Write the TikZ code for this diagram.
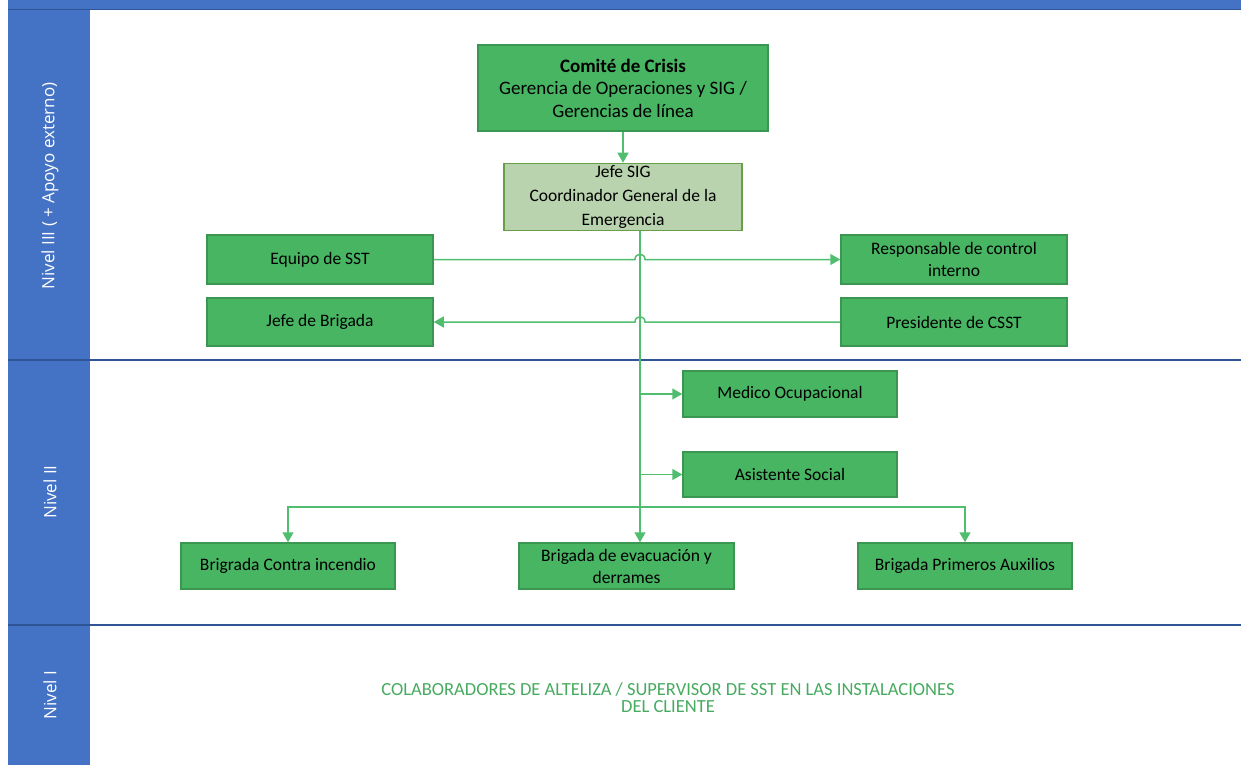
\documentclass[tikz,border=0pt]{standalone}
\usepackage{fontspec}
\setmainfont{Carlito}
\newfontfamily\lanefont{Open Sans}
\usepackage{xcolor}
\usetikzlibrary{arrows.meta,positioning,calc}
\definecolor{boxgreen}{RGB}{71,181,98}
\definecolor{boxedge}{RGB}{58,150,80}
\definecolor{sagefill}{RGB}{185,211,174}
\definecolor{sageedge}{RGB}{104,158,70}
\definecolor{linkgreen}{RGB}{80,190,110}
\definecolor{laneblue}{RGB}{68,114,196}
\definecolor{lanerule}{RGB}{47,85,151}
\definecolor{textgreen}{RGB}{70,170,95}
\tikzset{
    green-box/.style = {draw=boxedge, fill=boxgreen, line width=1.5pt, rectangle, align=center, inner sep=2pt, font=\fontsize{17.5}{22}\selectfont},
    sage-box/.style = {green-box, draw=sageedge, fill=sagefill, font=\fontsize{17.5}{24}\selectfont},
    lane-title/.style = {text=white, rotate=90, font=\lanefont\fontsize{17}{20}\selectfont},
    link/.style = {draw=linkgreen, line width=1.5pt, -{Triangle[length=10pt,width=11pt]}},
}

\begin{document}
\begin{tikzpicture}[x=1pt, y=-1pt]
\useasboundingbox (0,0) rectangle (1241,765);
% swimlanes
\fill[laneblue] (8,0) rectangle (1241,10);
\fill[laneblue] (8,10) rectangle (90,765);
\draw[lanerule, line width=1pt] (8,10) -- (1241,10);
\draw[lanerule, line width=2pt] (8,360) -- (1241,360);
\draw[lanerule, line width=2pt] (8,625) -- (1241,625);
\node[lane-title] (nivel3) at (50,186) {Nivel III ( + Apoyo externo)};
\node[lane-title] (nivel2) at (50,492) {Nivel II};
\node[lane-title] (nivel1) at (50,695) {Nivel I};

% nodes
\node[green-box, minimum width=290pt, minimum height=86pt, font=\fontsize{19}{22.5}\selectfont] (crisis) at (623,88) {\textbf{Comité de Crisis}\\Gerencia de Operaciones y SIG /\\Gerencias de línea};
\node[sage-box, minimum width=238pt, minimum height=64pt] (sig) at (623,197) {Jefe SIG\\Coordinador General de la\\Emergencia};
\node[green-box, minimum width=226pt, minimum height=49pt] (sst) at (320,259.5) {Equipo de SST};
\node[green-box, minimum width=226pt, minimum height=48pt] (jefeb) at (320,322) {Jefe de Brigada};
\node[green-box, minimum width=226pt, minimum height=49pt] (resp) at (954,259.5) {Responsable de control\\interno};
\node[green-box, minimum width=226pt, minimum height=48pt] (pres) at (954,322) {Presidente de CSST};
\node[green-box, minimum width=214pt, minimum height=46pt] (medico) at (790,394) {Medico Ocupacional};
\node[green-box, minimum width=214pt, minimum height=45pt] (asist) at (790,474.5) {Asistente Social};
\node[green-box, minimum width=214pt, minimum height=46pt] (fire) at (288,566) {Brigrada Contra incendio};
\node[green-box, minimum width=215pt, minimum height=46pt] (evac) at (626.5,566) {Brigada de evacuación y\\derrames};
\node[green-box, minimum width=214pt, minimum height=46pt] (aux) at (965,566) {Brigada Primeros Auxilios};
\node[text=textgreen, align=center, font=\fontsize{18.5}{17}\selectfont] (colab) at (668,698) {COLABORADORES DE ALTELIZA / SUPERVISOR DE SST EN LAS INSTALACIONES\\DEL CLIENTE};

% connectors
\coordinate (spine) at ([xshift=17pt]sig.south);
\coordinate (fork) at (spine |- 0,507);
\draw[link] (crisis) -- (sig);
\draw[link] (spine) -- (spine |- evac.north);
\draw[link] (sst.east) -- ([xshift=-5pt]spine |- sst.east) .. controls +(0,-7) and +(0,-7) .. ([xshift=5pt]spine |- sst.east) -- (resp.west);
\draw[link] (pres.west) -- ([xshift=5pt]spine |- pres.west) .. controls +(0,-7) and +(0,-7) .. ([xshift=-5pt]spine |- pres.west) -- (jefeb.east);
\draw[link] (spine |- medico.west) -- (medico.west);
\draw[link] (spine |- asist.west) -- (asist.west);
\draw[link] (fork) -| (fire.north);
\draw[link] (fork) -| (aux.north);
\end{tikzpicture}
\end{document}
